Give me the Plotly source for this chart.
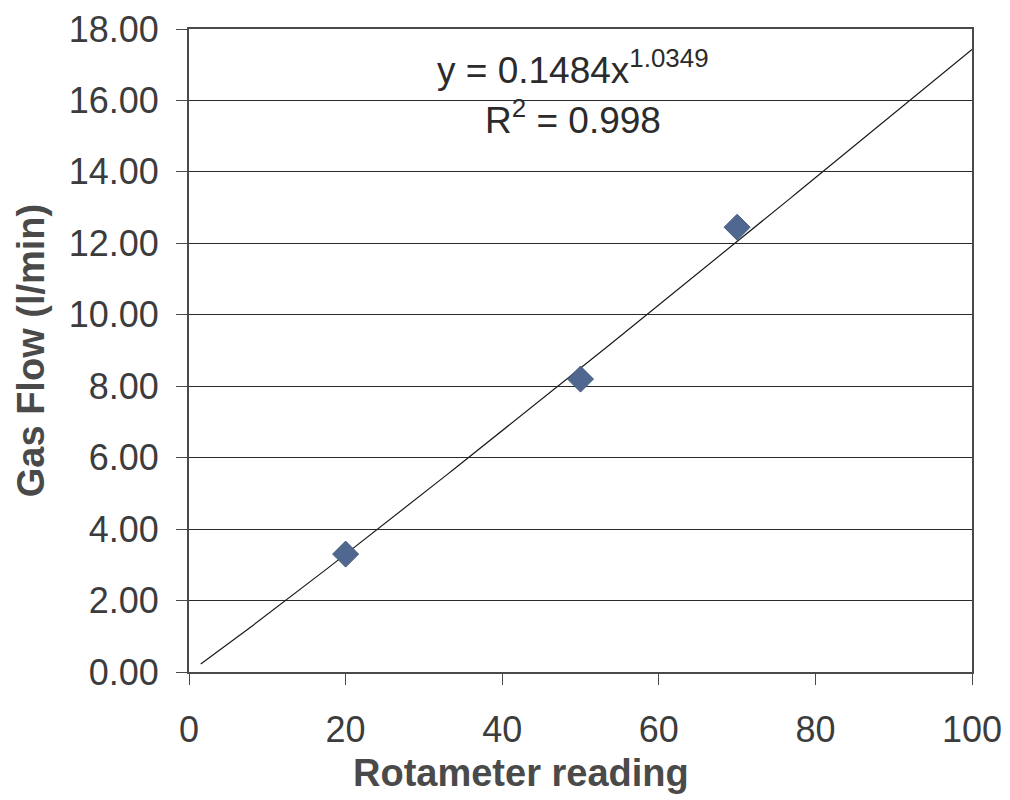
import numpy as np
import plotly.graph_objects as go

# ---------------------------
# DATA
# ---------------------------
rotameter = [20, 50, 70]
gas_flow = [3.30, 8.20, 12.45]

# power trendline shown on the chart
COEF = 0.1484
EXPONENT = 1.0349
R2 = 0.998
trend_x = np.linspace(1.5, 100, 120)
trend_y = COEF * trend_x ** EXPONENT

x_ticks = [0, 20, 40, 60, 80, 100]
y_ticks = [0, 2, 4, 6, 8, 10, 12, 14, 16, 18]

# ---------------------------
# FIGURE
# ---------------------------
fig = go.Figure()

fig.add_trace(go.Scatter(
    x=trend_x, y=trend_y,
    mode="lines",
    line=dict(color="#1a1a1a", width=1.2),
    showlegend=False,
))

fig.add_trace(go.Scatter(
    x=rotameter, y=gas_flow,
    mode="markers",
    marker=dict(symbol="diamond", size=20, color="#50688f",
                line=dict(color="#44597d", width=1)),
    showlegend=False,
))

font_fam = "Liberation Sans, Arial, sans-serif"

# trendline label
fig.add_annotation(
    x=0.49, y=0.98, xref="paper", yref="paper",
    text="y = 0.1484x<sup>1.0349</sup>",
    showarrow=False, font=dict(size=37, color="#2b2b2b", family=font_fam),
)
fig.add_annotation(
    x=0.49, y=0.902, xref="paper", yref="paper",
    text=f"R<sup>2</sup> = {R2}",
    showarrow=False, font=dict(size=37, color="#2b2b2b", family=font_fam),
)

# x title sits a bit left of centre in the original
fig.add_annotation(
    x=0.424, y=-0.157, xref="paper", yref="paper",
    yanchor="middle",
    text="<b>Rotameter reading</b>",
    showarrow=False, font=dict(size=38, color="#4a4a4a", family=font_fam),
)

fig.update_layout(
    width=1010, height=800,
    margin=dict(l=181, r=46, t=21, b=136),
    plot_bgcolor="white",
    paper_bgcolor="white",
    font=dict(family=font_fam, color="#3c3c3c"),
    xaxis=dict(
        range=[0, 100], tickvals=x_ticks,
        showgrid=False, zeroline=False,
        showline=True, linecolor="#4a4a4a", linewidth=2, mirror=True,
        ticks="outside", ticklen=11, tickcolor="#4a4a4a",
        ticklabelstandoff=14,
        tickfont=dict(size=36, color="#3c3c3c"),
        automargin=False,
    ),
    yaxis=dict(
        range=[0, 18], tickvals=y_ticks,
        tickformat=".2f",
        showgrid=True, gridcolor="#2a2a2a", gridwidth=1.2,
        zeroline=False,
        showline=True, linecolor="#4a4a4a", linewidth=2, mirror=True,
        ticks="outside", ticklen=11, tickcolor="#4a4a4a",
        ticklabelstandoff=10, ticklabeloverflow="allow",
        tickfont=dict(size=36, color="#3c3c3c"),
        title=dict(text="<b>Gas Flow (l/min)</b>", font=dict(size=38, color="#4a4a4a"), standoff=12),
        automargin=False,
    ),
)

fig.write_html("out.html")
